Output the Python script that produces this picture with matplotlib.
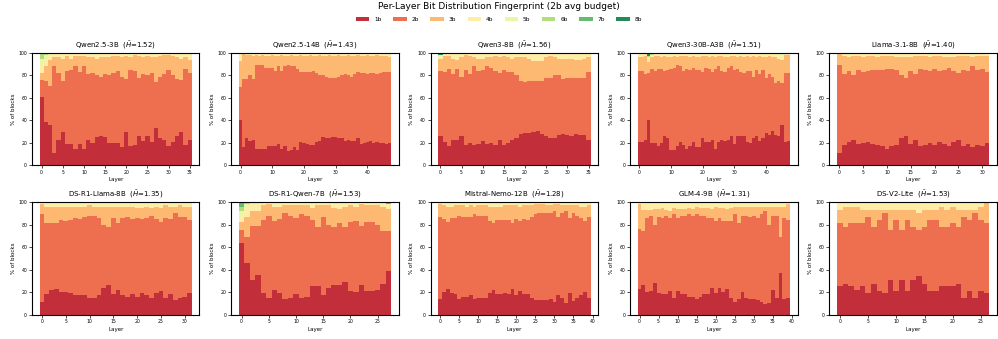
import numpy as np
import matplotlib.pyplot as plt

bits = ['1b', '2b', '3b', '4b', '5b', '6b', '7b', '8b']
colors = plt.cm.RdYlGn(np.linspace(0.05, 0.95, 8))

models = ['Qwen2.5-3B', 'Qwen2.5-14B', 'Qwen3-8B', 'Qwen3-30B-A3B', 'Llama-3.1-8B',
          'DS-R1-Llama-8B', 'DS-R1-Qwen-7B', 'Mistral-Nemo-12B', 'GLM-4-9B', 'DS-V2-Lite']
hbar = [1.52, 1.43, 1.56, 1.51, 1.40, 1.35, 1.53, 1.28, 1.31, 1.53]

# cumulative tops (% of blocks) of the 1b, 2b and 3b segments, per layer
# everything above 3b is 4b, except the layers listed in the *_hi dicts (4b..8b)
q25_3b_top1 = [61, 39, 36, 11, 23, 30, 19, 19, 15, 19, 15, 23, 20, 25, 26, 25, 20, 20,
               20, 16, 30, 17, 18, 26, 22, 26, 21, 33, 24, 23, 17, 21, 26, 30, 18, 23]
q25_3b_top2 = [76, 75, 71, 88, 82, 75, 84, 85, 88, 83, 88, 81, 82, 80, 79, 81, 80, 82,
               84, 79, 77, 85, 84, 78, 81, 80, 82, 74, 79, 81, 85, 80, 77, 76, 86, 82]
q25_3b_top3 = [82, 88, 94, 96, 96, 95, 97, 95, 97, 97, 97, 96, 96, 95, 96, 96, 96, 97,
               97, 96, 97, 96, 98, 97, 96, 97, 96, 96, 97, 98, 98, 97, 96, 95, 96, 94]
q25_3b_hi = {0: [6, 7, 5, 0, 0], 1: [7, 3, 2, 0, 0], 2: [4, 2, 0, 0, 0]}

q25_14b_top1 = [40, 16, 24, 22, 23, 15, 15, 15, 15, 17, 17, 17, 19, 15, 17, 13, 14, 16,
                14, 21, 20, 19, 18, 18, 21, 22, 25, 24, 24, 25, 25, 24, 24, 22, 23, 22,
                22, 24, 19, 20, 21, 22, 20, 21, 20, 20, 19, 20]
q25_14b_top2 = [70, 77, 77, 80, 77, 89, 89, 89, 87, 87, 87, 84, 88, 84, 88, 89, 88, 88,
                86, 83, 83, 83, 83, 84, 82, 80, 80, 79, 78, 78, 78, 79, 80, 81, 80, 79,
                81, 83, 82, 82, 81, 82, 82, 81, 82, 83, 83, 83]
q25_14b_top3 = [93, 99, 98, 98, 97, 98, 97, 98, 97, 97, 98, 97, 97, 98, 97, 97, 98, 97,
                97, 98, 97, 97, 98, 97, 97, 98, 97, 97, 98, 97, 97, 98, 97, 97, 98, 97,
                97, 98, 97, 97, 98, 97, 97, 98, 97, 97, 97, 96]
q25_14b_hi = {}

q3_8b_top1 = [26, 21, 17, 23, 23, 26, 18, 20, 18, 19, 22, 19, 20, 18, 23, 18, 20, 23,
              24, 28, 29, 29, 30, 31, 28, 26, 24, 24, 27, 28, 27, 26, 28, 27, 27, 23]
q3_8b_top2 = [84, 83, 86, 81, 86, 79, 85, 81, 88, 84, 85, 88, 87, 84, 82, 85, 83, 83,
              80, 75, 74, 75, 75, 75, 75, 78, 78, 80, 80, 77, 78, 78, 78, 78, 78, 83]
q3_8b_top3 = [95, 97, 97, 95, 94, 96, 98, 97, 96, 95, 95, 96, 96, 97, 96, 97, 96, 95,
              96, 96, 96, 95, 93, 93, 93, 96, 97, 96, 95, 95, 95, 95, 94, 94, 95, 96]
q3_8b_hi = {0: [3, 0.5, 0, 0, 1.5]}

q3_30b_top1 = [21, 21, 23, 40, 20, 20, 17, 20, 26, 24, 14, 14, 17, 21, 18, 15, 17, 21,
               16, 16, 24, 21, 21, 23, 15, 21, 23, 22, 23, 26, 19, 26, 26, 26, 21, 20,
               24, 26, 22, 24, 29, 27, 31, 27, 26, 36, 21, 22]
q3_30b_top2 = [84, 84, 81, 82, 86, 84, 86, 86, 84, 85, 86, 87, 89, 88, 84, 86, 85, 87,
               85, 85, 83, 87, 86, 83, 86, 88, 84, 83, 87, 88, 85, 86, 83, 82, 84, 84,
               79, 85, 81, 85, 78, 81, 79, 73, 75, 73, 82, 82]
q3_30b_top3 = [96, 96, 97, 92, 96, 97, 97, 96, 97, 96, 96, 97, 96, 97, 97, 97, 96, 97,
               96, 96, 97, 97, 96, 97, 96, 97, 97, 96, 96, 97, 97, 96, 97, 96, 97, 96,
               97, 96, 97, 96, 96, 97, 96, 96, 95, 94, 98, 98]
q3_30b_hi = {0: [3, 0, 0.5, 0.5, 0], 3: [4, 0, 1, 0, 3], 4: [2, 0, 2, 0, 0],
             6: [2, 0, 0, 1, 0], 9: [3, 0, 1, 0, 0], 13: [2, 0, 1, 0, 0],
             20: [2, 0, 0, 1, 0], 26: [2, 0, 1, 0, 0], 35: [3, 0, 1, 0, 0],
             44: [3, 1, 1, 0, 0], 45: [4, 1, 1, 0, 0]}

llama_top1 = [11, 18, 21, 23, 19, 20, 21, 19, 18, 17, 15, 17, 18, 24, 26, 19,
              23, 17, 18, 20, 18, 21, 19, 17, 21, 23, 17, 19, 16, 18, 17, 20]
llama_top2 = [89, 81, 84, 80, 85, 83, 84, 85, 85, 85, 86, 86, 85, 80, 78, 84,
              81, 86, 85, 84, 86, 84, 85, 87, 84, 82, 85, 84, 88, 85, 86, 83]
llama_top3 = [99, 97, 96, 97, 97, 96, 97, 97, 96, 97, 97, 97, 96, 96, 96, 96,
              97, 97, 97, 96, 97, 97, 96, 96, 96, 97, 97, 97, 96, 97, 97, 97]
llama_hi = {}

r1_llama_top1 = [11, 18, 22, 23, 20, 20, 19, 17, 17, 17, 15, 15, 17, 24, 26, 18,
                 22, 17, 16, 18, 16, 19, 17, 15, 19, 21, 15, 18, 13, 15, 16, 19]
r1_llama_top2 = [89, 81, 81, 81, 84, 83, 84, 86, 85, 87, 88, 88, 86, 80, 78, 86,
                 81, 86, 87, 85, 86, 85, 86, 88, 85, 82, 86, 85, 90, 87, 87, 84]
r1_llama_top3 = [98, 96, 96, 96, 96, 96, 96, 96, 96, 96, 97, 96, 96, 96, 96, 96,
                 96, 96, 96, 96, 95, 95, 96, 95, 96, 95, 97, 96, 96, 97, 96, 96]
r1_llama_hi = {}

r1_qwen_top1 = [64, 46, 31, 35, 19, 15, 22, 19, 14, 15, 18, 15, 16, 25,
                25, 17, 24, 26, 26, 29, 21, 20, 26, 21, 21, 22, 27, 39]
r1_qwen_top2 = [75, 69, 79, 79, 84, 88, 83, 85, 90, 88, 86, 89, 88, 84,
                78, 87, 80, 78, 81, 78, 82, 83, 79, 82, 82, 80, 74, 74]
r1_qwen_top3 = [82, 87, 92, 92, 97, 98, 96, 96, 97, 97, 97, 97, 97, 95,
                97, 97, 97, 95, 94, 96, 97, 96, 98, 97, 97, 97, 96, 94]
r1_qwen_hi = {0: [6, 4, 4, 4, 0], 1: [8, 3, 2, 0, 0], 2: [7, 0, 1, 0, 0],
              3: [6, 1, 1, 0, 0], 27: [4, 0, 0, 2, 0]}

mistral_top1 = [14, 20, 23, 19, 18, 14, 16, 16, 17, 14, 15, 15, 15, 19, 22, 18, 18, 19, 18, 23,
                17, 21, 18, 18, 15, 13, 13, 13, 13, 14, 11, 17, 15, 10, 19, 12, 15, 17, 20, 15]
mistral_top2 = [87, 85, 82, 86, 86, 88, 87, 87, 87, 89, 88, 88, 88, 83, 81, 84, 84, 84, 84, 81,
                85, 83, 85, 84, 87, 89, 90, 90, 90, 90, 92, 87, 90, 92, 86, 90, 88, 86, 83, 87]
mistral_top3 = [98, 97, 96, 96, 97, 97, 97, 96, 97, 96, 97, 97, 97, 96, 96, 96, 96, 97, 97, 97,
                97, 96, 97, 97, 97, 98, 98, 98, 97, 97, 98, 98, 97, 97, 97, 97, 97, 96, 96, 97]
mistral_hi = {}

glm_top1 = [23, 26, 20, 21, 28, 19, 18, 18, 21, 15, 21, 18, 18, 16, 16, 14, 16, 18, 18, 24,
            19, 24, 20, 23, 15, 11, 14, 20, 15, 14, 14, 13, 11, 9, 10, 22, 15, 37, 14, 15]
glm_top2 = [76, 74, 86, 88, 80, 87, 86, 88, 86, 89, 86, 88, 88, 89, 88, 89, 88, 88, 86, 86,
            83, 86, 83, 83, 83, 89, 81, 88, 88, 87, 88, 86, 89, 92, 80, 88, 88, 69, 86, 84]
glm_top3 = [98, 93, 93, 93, 94, 94, 95, 93, 92, 95, 94, 94, 94, 95, 94, 96, 95, 95, 95, 94,
            96, 95, 95, 94, 95, 96, 96, 96, 96, 96, 96, 96, 96, 96, 96, 96, 96, 96, 96, 98]
glm_hi = {}

v2lite_top1 = [25, 27, 25, 22, 25, 19, 27, 21, 19, 31, 21, 31, 21, 31,
               34, 27, 21, 21, 25, 25, 25, 27, 15, 21, 15, 21, 19]
v2lite_top2 = [81, 78, 81, 81, 81, 87, 78, 84, 90, 75, 84, 75, 84, 78,
               75, 78, 84, 84, 78, 78, 81, 78, 87, 84, 90, 84, 81]
v2lite_top3 = [93, 96, 96, 96, 93, 93, 93, 93, 93, 93, 93, 93, 93, 93,
               90, 93, 93, 93, 96, 93, 96, 93, 93, 93, 93, 96, 100]
v2lite_hi = {0: [5, 2, 0, 0, 0], 8: [5, 2, 0, 0, 0]}

panels = [
    (q25_3b_top1, q25_3b_top2, q25_3b_top3, q25_3b_hi),
    (q25_14b_top1, q25_14b_top2, q25_14b_top3, q25_14b_hi),
    (q3_8b_top1, q3_8b_top2, q3_8b_top3, q3_8b_hi),
    (q3_30b_top1, q3_30b_top2, q3_30b_top3, q3_30b_hi),
    (llama_top1, llama_top2, llama_top3, llama_hi),
    (r1_llama_top1, r1_llama_top2, r1_llama_top3, r1_llama_hi),
    (r1_qwen_top1, r1_qwen_top2, r1_qwen_top3, r1_qwen_hi),
    (mistral_top1, mistral_top2, mistral_top3, mistral_hi),
    (glm_top1, glm_top2, glm_top3, glm_hi),
    (v2lite_top1, v2lite_top2, v2lite_top3, v2lite_hi),
]

fig, axes = plt.subplots(2, 5, figsize=(9.98, 3.39), dpi=100)
fig.subplots_adjust(left=0.032, right=0.999, bottom=0.072, top=0.844, wspace=0.19, hspace=0.326)

for ax, name, h, (t1, t2, t3, hi) in zip(axes.flat, models, hbar, panels):
    t1 = np.array(t1, float)
    t2 = np.array(t2, float)
    t3 = np.array(t3, float)
    n = len(t1)
    x = np.arange(n)
    seg = np.zeros((8, n))
    seg[0] = t1
    seg[1] = t2 - t1
    seg[2] = t3 - t2
    seg[3] = 100 - t3
    for layer, vals in hi.items():
        seg[3:, layer] = vals
    bottom = np.zeros(n)
    for k in range(8):
        ax.bar(x, seg[k], bottom=bottom, width=1.0, color=colors[k], alpha=0.9,
               linewidth=0, label=bits[k])
        bottom += seg[k]
    ax.set_ylim(0, 100)
    ax.set_yticks([0, 20, 40, 60, 80, 100])
    ax.set_title(f'{name}  ($\\bar{{H}}$={h:.2f})', fontsize=5, pad=4)
    ax.set_xlabel('Layer', fontsize=4, labelpad=1.5)
    ax.set_ylabel('% of blocks', fontsize=4, labelpad=2)
    ax.tick_params(labelsize=3.3, length=2, width=0.5, pad=1.5)
    for s in ax.spines.values():
        s.set_linewidth(0.8)

handles, labels = axes[0, 0].get_legend_handles_labels()
fig.legend(handles, labels, loc='center', bbox_to_anchor=(0.5, 0.943), ncol=8,
           frameon=False, fontsize=4.2, handlelength=2.3, handleheight=0.9,
           columnspacing=2.0, handletextpad=0.8)
fig.suptitle('Per-Layer Bit Distribution Fingerprint (2b avg budget)', fontsize=6.5, y=0.995)

fig.savefig('out.png', dpi=100)
